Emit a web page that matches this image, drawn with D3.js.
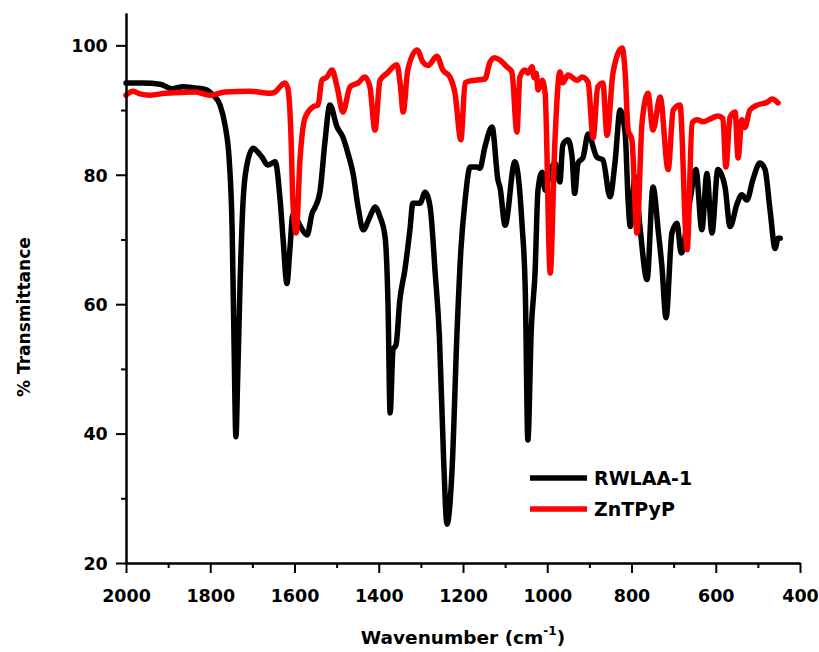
<!DOCTYPE html>
<html>
<head>
<meta charset="utf-8">
<script src="https://cdn.jsdelivr.net/npm/d3@7"></script>
<style>
  body { margin: 0; background: #fff; }
  svg text { font-family: "DejaVu Sans", Arial, sans-serif; font-weight: bold; }
</style>
</head>
<body>
<div id="wrapper"></div>
<script>
// data: [wavenumber, % transmittance]
const rwlaa = [
  [2000, 94.2], [1960, 94.2], [1919, 94.0], [1891, 93.3], [1865, 93.6], [1836, 93.4], [1812, 93.2],
  [1793, 92.3], [1777, 90.8], [1765, 87.7], [1755, 82.3], [1748, 71.4], [1744, 56], [1739, 39.5],
  [1735, 48.3], [1729, 63.7], [1722, 76], [1713, 81.5], [1698, 84.1], [1687, 83.5], [1677, 82.7],
  [1663, 81.5], [1646, 82], [1634, 76], [1627, 70], [1618, 63.2], [1611, 68.4], [1604, 73.8],
  [1598, 73.5], [1586, 72], [1570, 70.7], [1558, 74.1], [1551, 75], [1539, 77.6], [1528, 84.9],
  [1516, 90.8], [1499, 87.4], [1485, 85.8], [1473, 83.3], [1461, 80.2], [1449, 75], [1437, 71.5],
  [1421, 73.5], [1409, 75], [1397, 73.5], [1385, 70.4], [1378, 60], [1373, 43.2], [1366, 53],
  [1359, 53.7], [1350, 60.6], [1338, 65.3], [1326, 71.5], [1319, 75.6], [1302, 75.6], [1290, 77.3],
  [1278, 75], [1266, 64.8], [1256, 55], [1246, 36], [1238, 26], [1226, 34.4], [1214, 56],
  [1205, 68.4], [1195, 76.1], [1183, 81.2], [1167, 81.2], [1160, 81], [1148, 84.3], [1131, 87.4],
  [1117, 79.2], [1112, 78], [1100, 72.2], [1077, 82], [1060, 72.5], [1052, 61.7], [1046, 39],
  [1038, 56], [1029, 64.8], [1022, 77.6], [1012, 80.4], [1005, 77.6], [995, 80], [982, 81.8],
  [970, 78.9], [963, 84.6], [951, 85.4], [941, 82.7], [935, 77.1], [927, 81.8], [915, 82.7],
  [903, 86.3], [882, 82.7], [868, 82.3], [851, 76.6], [839, 82], [827, 90], [815, 86.4],
  [808, 76], [803, 72], [792, 79.7], [780, 72], [763, 63.8], [749, 78.1], [736, 71],
  [728, 66], [718, 57.9], [704, 71], [692, 72.5], [682, 67.9], [661, 76.1], [647, 80.8],
  [633, 71.5], [621, 80.2], [609, 71], [595, 80.8], [578, 78.1], [566, 72], [549, 75.6],
  [538, 76.9], [526, 76.1], [512, 79.2], [495, 81.8], [483, 80.8], [471, 74.5], [459, 68.6],
  [452, 70.2], [447, 70.2]
];
const zntpyp = [
  [2000, 92.3], [1983, 92.9], [1967, 92.5], [1943, 92.3], [1907, 92.6], [1872, 92.7], [1836, 92.8],
  [1801, 92.3], [1765, 92.8], [1706, 92.9], [1658, 92.6], [1646, 92.8], [1630, 93.9], [1623, 94.2],
  [1616, 93.4], [1608, 85.4], [1604, 76.1], [1596, 71], [1587, 82.3], [1575, 88.8], [1556, 90.5],
  [1544, 90.8], [1535, 94.6], [1523, 95.1], [1511, 96.2], [1499, 93.6], [1485, 89.7], [1468, 93.6],
  [1449, 94.2], [1433, 95.1], [1421, 93.6], [1409, 86.9], [1397, 94.6], [1380, 95.7], [1357, 97],
  [1349, 94], [1342, 89.7], [1331, 96.2], [1309, 99.3], [1295, 97.4], [1283, 96.9], [1262, 98.3],
  [1248, 96.2], [1231, 95.1], [1219, 92.6], [1205, 85.4], [1195, 94.2], [1183, 94.5], [1148, 94.8],
  [1136, 97.4], [1125, 98.1], [1112, 97.7], [1096, 96.7], [1084, 95.9], [1072, 86.6], [1065, 95.1],
  [1053, 96.2], [1046, 95.7], [1036, 96.7], [1031, 95], [1026, 95.7], [1022, 93.1], [1012, 94.6],
  [1005, 92.6], [993, 64.8], [982, 84.9], [970, 95.9], [963, 94.2], [951, 95.4], [929, 94.6],
  [917, 95.1], [903, 94.3], [891, 85.7], [880, 93.6], [868, 94.2], [858, 86.1], [844, 95.7],
  [822, 99.6], [815, 95.7], [808, 86.9], [799, 85.4], [787, 71], [775, 88], [761, 92.6],
  [749, 86.9], [732, 92], [713, 80.8], [701, 90], [685, 90.8], [668, 68.4], [656, 88],
  [644, 88.5], [630, 88.2], [614, 88.6], [595, 89.1], [583, 88.7], [576, 81.2], [566, 88.9],
  [554, 89.7], [547, 82.6], [538, 88.5], [531, 87.3], [519, 90], [500, 90.8], [478, 91.2],
  [466, 91.7], [452, 91.1]
];
const seriesNames = ["RWLAA-1", "ZnTPyP"];
const seriesColors = ["#000000", "#ff0000"];
const xTicks = [2000, 1800, 1600, 1400, 1200, 1000, 800, 600, 400];
const yTicks = [20, 40, 60, 80, 100];

const dimensions = {
  width: 819,
  height: 652,
  margin: { top: 13, right: 19, bottom: 89, left: 126 },
};
dimensions.boundWidth = dimensions.width - dimensions.margin.left - dimensions.margin.right;
dimensions.boundHeight = dimensions.height - dimensions.margin.top - dimensions.margin.bottom;

const svg = d3.select("#wrapper").append("svg")
  .attr("width", dimensions.width)
  .attr("height", dimensions.height);
const bounds = svg.append("g")
  .attr("transform", `translate(${dimensions.margin.left},${dimensions.margin.top})`);

const xScale = d3.scaleLinear().domain([2000, 400]).range([0, dimensions.boundWidth]);
const yScale = d3.scaleLinear().domain([20, 105]).range([dimensions.boundHeight, 0]);

const line = d3.line()
  .x(d => xScale(d[0]))
  .y(d => yScale(d[1]))
  .curve(d3.curveMonotoneX);

// red drawn after black (red sits on top in the crowded region)
[rwlaa, zntpyp].forEach((s, i) => {
  bounds.append("path")
    .datum(s)
    .attr("d", line)
    .attr("fill", "none")
    .attr("stroke", seriesColors[i])
    .attr("stroke-width", 5.5)
    .attr("stroke-linejoin", "round")
    .attr("stroke-linecap", "round");
});

// axes
const xAxis = bounds.append("g")
  .attr("transform", `translate(0,${dimensions.boundHeight})`)
  .call(d3.axisBottom(xScale).tickValues(xTicks).tickSize(10).tickSizeOuter(0).tickFormat(d3.format("d")));
const xMinor = bounds.append("g")
  .attr("transform", `translate(0,${dimensions.boundHeight})`)
  .call(d3.axisBottom(xScale).tickValues(d3.range(1900, 400, -200)).tickSize(5).tickSizeOuter(0).tickFormat(""));
const yAxis = bounds.append("g")
  .call(d3.axisLeft(yScale).tickValues(yTicks).tickSize(10).tickSizeOuter(0));
const yMinor = bounds.append("g")
  .call(d3.axisLeft(yScale).tickValues([30, 50, 70, 90]).tickSize(5).tickSizeOuter(0).tickFormat(""));

[xAxis, xMinor, yAxis, yMinor].forEach(a => {
  a.select(".domain").attr("stroke", "#000").attr("stroke-width", 2);
  a.selectAll(".tick line").attr("stroke", "#000").attr("stroke-width", 2);
});
xAxis.selectAll(".tick text").attr("fill", "#000").style("font-size", "17.5px").attr("dy", "1.5em");
yAxis.selectAll(".tick text").attr("fill", "#000").style("font-size", "17.5px").attr("dx", "-0.3em").attr("dy", "0.36em");

// axis titles
const xTitle = svg.append("text")
  .attr("x", dimensions.margin.left + dimensions.boundWidth / 2)
  .attr("y", 644)
  .attr("text-anchor", "middle")
  .style("font-size", "18.5px");
xTitle.append("tspan").text("Wavenumber (cm");
xTitle.append("tspan").attr("dy", -9).style("font-size", "12px").text("-1");
xTitle.append("tspan").attr("dy", 9).text(")");

svg.append("text")
  .attr("transform", `translate(30,${dimensions.margin.top + yScale(58)}) rotate(-90)`)
  .attr("text-anchor", "middle")
  .style("font-size", "17px")
  .text("% Transmittance");

// legend
const legend = svg.append("g").attr("transform", "translate(530,478)");
seriesNames.forEach((name, i) => {
  const row = legend.append("g").attr("transform", `translate(0,${i * 31})`);
  row.append("line")
    .attr("x1", 0).attr("x2", 57).attr("y1", 0).attr("y2", 0)
    .attr("stroke", seriesColors[i]).attr("stroke-width", 5.5);
  row.append("text")
    .attr("x", 64).attr("y", 0).attr("dy", "0.36em")
    .style("font-size", "19px")
    .text(name);
});
</script>
</body>
</html>
